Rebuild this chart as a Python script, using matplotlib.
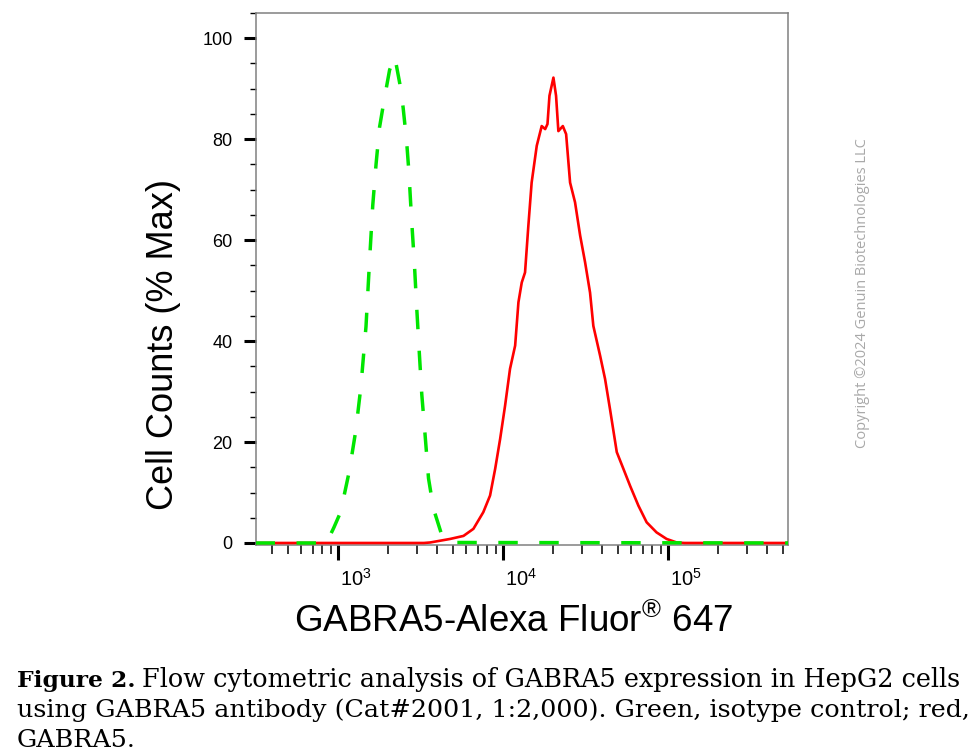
import numpy as np
import matplotlib
matplotlib.use('Agg')
import matplotlib.pyplot as plt
from matplotlib.ticker import MultipleLocator, LogLocator, NullFormatter
import matplotlib.transforms as mtransforms

plt.rcParams['font.family'] = ['Liberation Sans', 'DejaVu Sans']
plt.rcParams['mathtext.fontset'] = 'custom'
plt.rcParams['mathtext.rm'] = 'Liberation Sans'

# isotype control (green, dashed)
iso_x = [316, 851, 944, 1035, 1167, 1279, 1374, 1476, 1549, 1622, 1698, 1782, 1914,
         2051, 2203, 2366, 2477, 2600, 2685, 2786, 2897, 2992, 3090, 3214, 3365,
         3532, 3784, 4266, 4786, 537000]
iso_y = [0, 0, 3.1, 6.1, 14.1, 22.2, 30.9, 42.9, 55.6, 66.9, 75.0, 82.3, 88.3,
         93.7, 96.4, 91.0, 86.3, 79.7, 73.6, 64.3, 55.6, 46.9, 38.9, 29.5, 21.5,
         12.8, 6.8, 1.4, 0.1, 0]

# GABRA5 (red, solid)
gab_x = [316, 3311, 3614, 4775, 5754, 6607, 7586, 8337, 8954, 9594, 10280, 11015,
         11830, 12388, 12972, 13583, 14223, 14894, 15996, 17140, 17989, 18578,
         19099, 20184, 20941, 21627, 23014, 24099, 25468, 27290, 29309, 31405,
         33651, 35237, 38726, 41495, 44463, 48865, 53580, 58884, 66069, 74131,
         85114, 97949, 112720, 125900, 537000]
gab_y = [0, 0, 0.1, 0.8, 1.4, 2.8, 6.1, 9.4, 14.7, 20.6, 27.2, 34.5,
         39.1, 47.7, 51.6, 53.6, 62.8, 71.4, 78.7, 82.6, 82.0, 83.0,
         88.6, 92.2, 88.6, 81.6, 82.6, 81.0, 71.4, 67.5, 60.9, 55.6,
         49.6, 43.0, 37.1, 32.5, 26.5, 18.0, 14.7, 11.3, 7.4, 4.1,
         2.1, 0.8, 0.1, 0, 0]

y_ticks = [0, 20, 40, 60, 80, 100]
x_ticks = [1e3, 1e4, 1e5]
x_ticklabels = [r'$\mathregular{10^{3}}$', r'$\mathregular{10^{4}}$',
                r'$\mathregular{10^{5}}$']

fig = plt.figure(figsize=(9.8, 7.56), dpi=100)
ax = fig.add_axes([256/980, 1 - 545/756, 532/980, 532/756])

ax.plot(gab_x, gab_y, color='#ff0000', lw=1.9, zorder=3)
ax.plot(iso_x, iso_y, color='#00e600', lw=2.5, dashes=(5.6, 6.2), zorder=4)

ax.set_xscale('log')
ax.set_xlim(318, 533000)
ax.set_ylim(-0.4, 105)

ax.set_yticks(y_ticks)
ax.yaxis.set_minor_locator(MultipleLocator(5))
ax.set_xticks(x_ticks)
ax.set_xticklabels(x_ticklabels)
ax.xaxis.set_minor_locator(LogLocator(base=10, subs=np.arange(2, 10)))
ax.xaxis.set_minor_formatter(NullFormatter())

ax.tick_params(axis='y', which='major', direction='out', length=9, width=2.2,
               labelsize=13, pad=8)
ax.tick_params(axis='y', which='minor', direction='out', length=4.5, width=1.0)
ax.tick_params(axis='x', which='major', direction='out', length=11, width=2.2,
               labelsize=14.5, pad=5.5)
ax.tick_params(axis='x', which='minor', direction='out', length=6.5, width=1.1)

# labels start just right of the tick, as in the reference
offset = mtransforms.ScaledTranslation(2/100, 0, fig.dpi_scale_trans)
for lab in ax.get_xticklabels():
    lab.set_horizontalalignment('left')
    lab.set_transform(lab.get_transform() + offset)

for sp in ax.spines.values():
    sp.set_color('#808080')
    sp.set_linewidth(1.1)

fig.text(163/980, 1 - 345/756, 'Cell Counts (% Max)', rotation=90,
         ha='center', va='center', fontsize=26)
fig.text(514/980, 1 - 632/756, r'GABRA5-Alexa Fluor$^{\mathregular{®}}$ 647',
         ha='center', va='baseline', fontsize=26.5)

fig.text(862/980, 1 - 293/756, 'Copyright \u00a92024 Genuin Biotechnologies LLC',
         rotation=90, ha='center', va='center', fontsize=10.5,
         family='Open Sans', color='#a8a8a8')

# caption
cap_kw = dict(family='DejaVu Serif', va='baseline', ha='left')
b = fig.text(17/980, 1 - 687/756, 'Figure 2.', fontweight='bold', fontsize=16.8,
             **cap_kw)
fig.canvas.draw()
bb = b.get_window_extent().transformed(fig.transFigure.inverted())
fig.text(bb.x1 + 7/980, 1 - 687/756,
         'Flow cytometric analysis of GABRA5 expression in HepG2 cells',
         fontsize=18.4, **cap_kw)
fig.text(17/980, 1 - 717/756,
         'using GABRA5 antibody (Cat#2001, 1:2,000). Green, isotype control; red,',
         fontsize=18.3, **cap_kw)
fig.text(17/980, 1 - 747/756, 'GABRA5.', fontsize=18.3, **cap_kw)

fig.savefig('out.png', dpi=100)
